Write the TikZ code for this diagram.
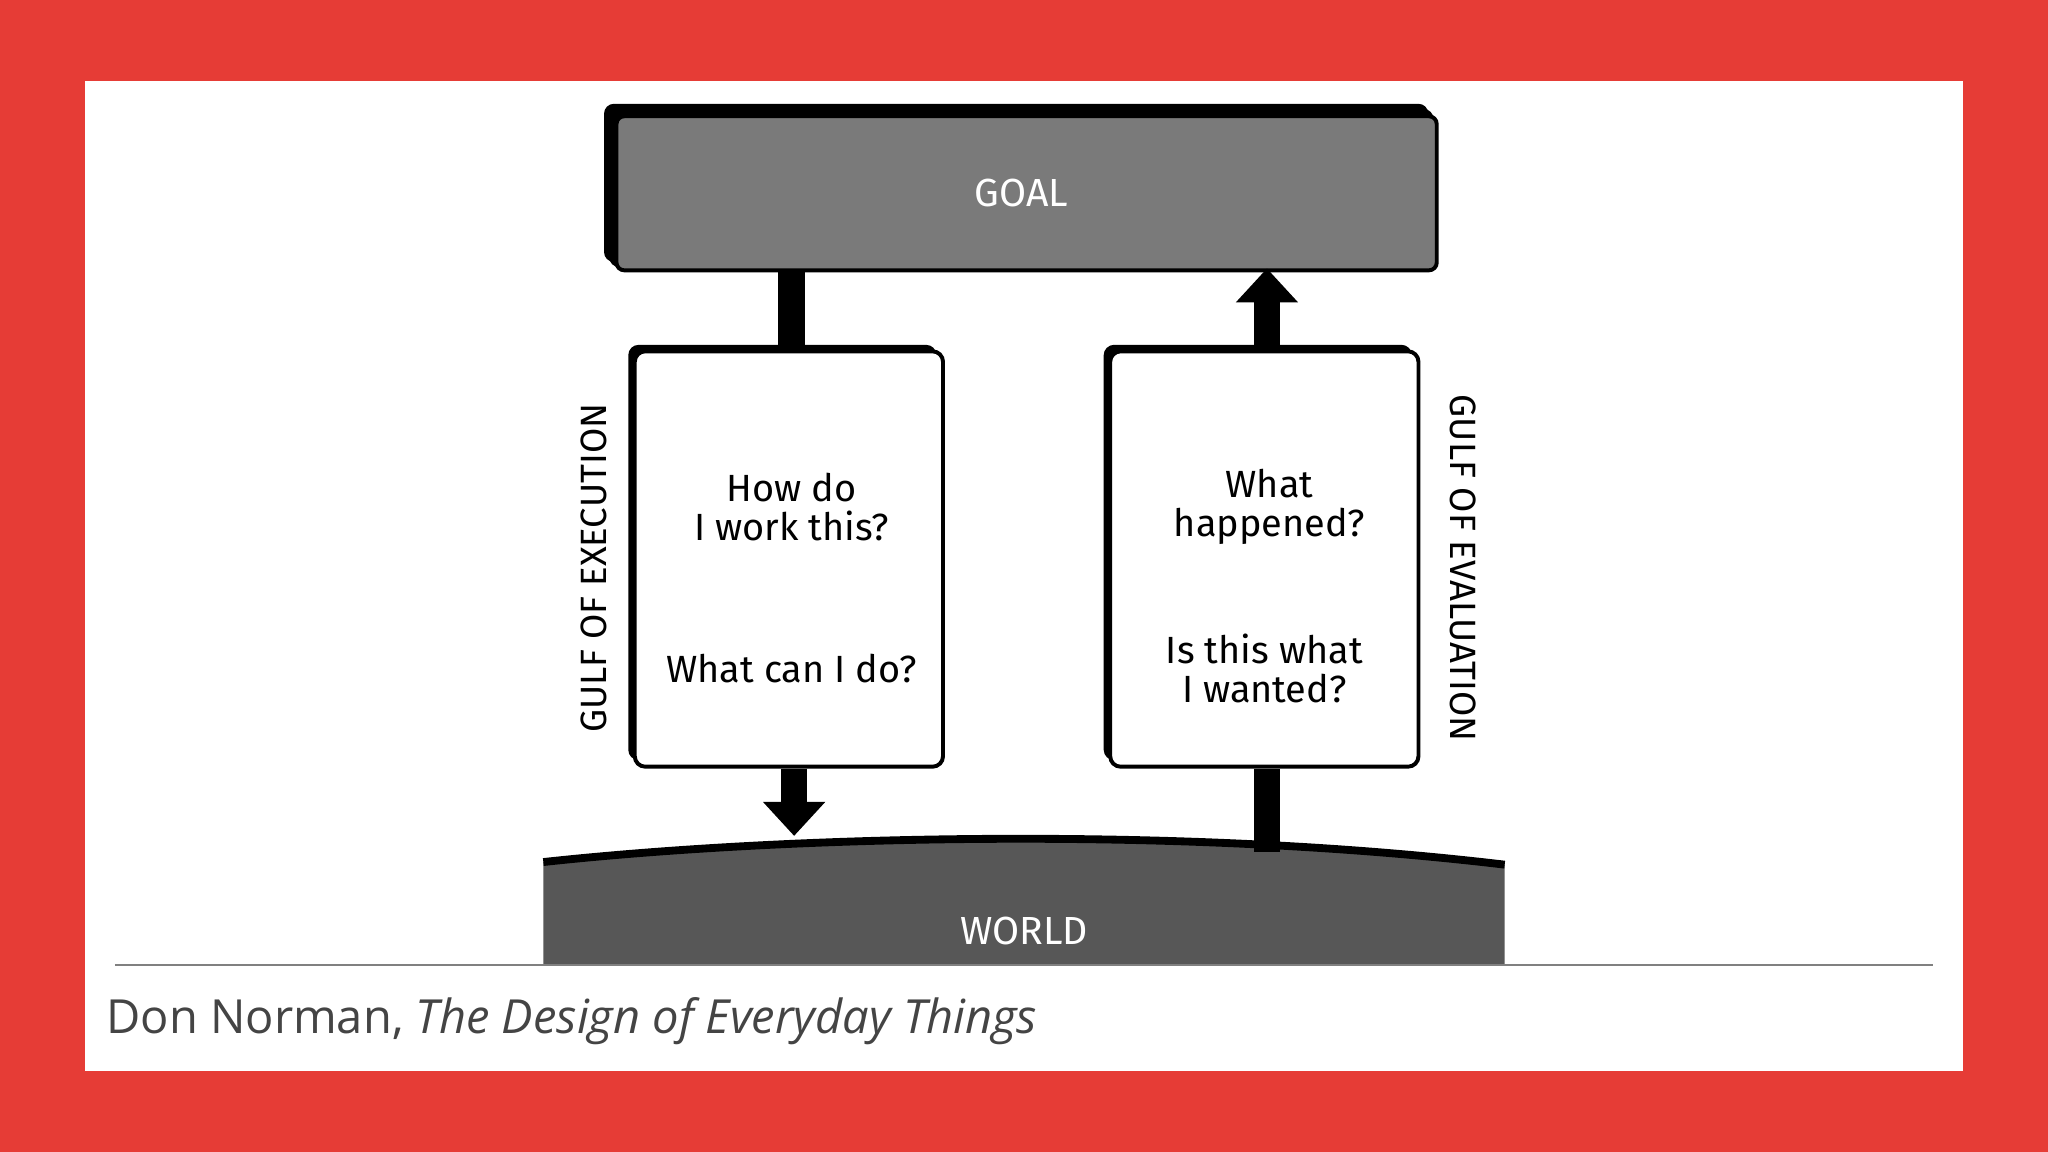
\documentclass[tikz,border=0pt]{standalone}
\usepackage{fontspec}
\setmainfont{Open Sans}
\newfontfamily\hand{Fira Sans}
\usetikzlibrary{arrows.meta,shadows}
\definecolor{redbg}{HTML}{E63C36}
\definecolor{goalgray}{HTML}{7A7A7A}
\definecolor{worldgray}{HTML}{575757}
\definecolor{captiongray}{HTML}{444444}
\begin{document}
\begin{tikzpicture}[x=1pt,y=-1pt,
  qbox/.style={draw=black,line width=3pt,fill=white,rounded corners=8pt,
    minimum width=236pt,minimum height=318pt,inner sep=0pt},
  qtext/.style={font=\hand\fontsize{29}{30}\selectfont,align=center,text=black},
  gulf/.style={font=\hand\fontsize{28}{30}\selectfont,text=black},
  bar/.style={line width=20pt,draw=black},
  arr/.style={line width=20pt,draw=black,-{Triangle[width=46pt,length=26pt]}}]
\useasboundingbox (0,0) rectangle (1568,882);
\fill[redbg] (0,0) rectangle (1568,882);
\fill[white] (65,62) rectangle (1503,820);
% GOAL
\node[draw=black,line width=3pt,fill=goalgray,rounded corners=6pt,minimum width=628pt,minimum height=118pt,
  double copy shadow={shadow xshift=-4pt,shadow yshift=4pt,fill=black,draw=black}] (goal) at (786,148) {};
\node[font=\hand\fontsize{30}{32}\selectfont,text=white] (goalt) at (782,148) {GOAL};
% WORLD
\fill[worldgray] (416,739) -- (416,660) .. controls (600,640) and (900,632) .. (1152,662) -- (1152,739) -- cycle;
\draw[black,line width=6pt] (416,660) .. controls (600,640) and (900,632) .. (1152,662);
\node[font=\hand\fontsize{30}{32}\selectfont,text=white] (world) at (784,713) {WORLD};
\coordinate (wl) at (608,640);
\coordinate (wr) at (970,652);
% boxes
\node[qbox,drop shadow={shadow xshift=-5pt,shadow yshift=5pt,fill=black,opacity=1}] (lb) at (604,428) {};
\node[qbox,drop shadow={shadow xshift=-5pt,shadow yshift=5pt,fill=black,opacity=1}] (rb) at (968,428) {};
\node[qtext] (l1) at (606,388) {How do\\I work this?};
\node[qtext] (l2) at (606,512) {What can I do?};
\node[qtext] (r1) at (972,388) {What\\happened?};
\node[qtext] (r2) at (968,512) {Is this what\\I wanted?};
% connectors
\draw[bar] (goal.south -| 606,0) -- (lb.north -| 606,0);
\draw[arr] (lb.south -| wl) -- (wl);
\draw[bar] (wr) -- (rb.south -| wr);
\draw[arr] (rb.north -| wr) -- ([yshift=3pt]goal.south -| wr);
% gulfs
\node[gulf,rotate=90] (ge) at (455,435) {GULF OF EXECUTION};
\node[gulf,rotate=-90] (gv) at (1120,435) {GULF OF EVALUATION};
% caption
\draw[gray,line width=1.2pt] (88,739) -- (1480,739);
\node[anchor=west,text=captiongray,font=\fontsize{36}{40}\selectfont] (cap) at (78,782)
  {Don Norman, \textit{The Design of Everyday Things}};
\end{tikzpicture}
\end{document}
